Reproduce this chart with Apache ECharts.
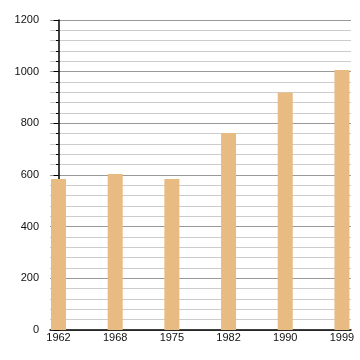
<!DOCTYPE html>
<html>
<head>
<meta charset="utf-8">
<script src="https://cdn.jsdelivr.net/npm/echarts@6/dist/echarts.min.js"></script>
<style>html,body{margin:0;padding:0;background:#fff;}#c{width:360px;height:360px;}</style>
</head>
<body>
<div id="c"></div>
<script>
var years = ['1962', '1968', '1975', '1982', '1990', '1999'];
var values = [585, 604, 585, 763, 919, 1006];
var yTicks = [0, 200, 400, 600, 800, 1000, 1200];

var chart = echarts.init(document.getElementById('c'), null, {renderer: 'canvas'});
chart.setOption({
  animation: false,
  backgroundColor: '#fff',
  grid: {left: 50, right: 9, top: 20, bottom: 30, containLabel: false},
  xAxis: {
    type: 'value',
    min: -0.15,
    max: 5.16,
    axisLine: {show: true, onZero: false, lineStyle: {color: '#000', width: 1.5}},
    axisTick: {show: false},
    splitLine: {show: false},
    axisLabel: {
      customValues: years.map(function (y, i) { return i; }),
      formatter: function (v) { return years[Math.round(v)]; },
      color: '#111', fontSize: 11, fontFamily: 'Liberation Sans, Arial', margin: 2
    }
  },
  yAxis: {
    type: 'value',
    min: yTicks[0],
    max: yTicks[yTicks.length - 1],
    interval: 200,
    axisLine: {show: true, lineStyle: {color: '#000', width: 1.5}},
    axisTick: {show: true, length: 5, lineStyle: {color: '#000'}},
    minorTick: {show: true, splitNumber: 5, length: 2.5, lineStyle: {color: '#000'}},
    splitLine: {show: true, lineStyle: {color: '#999', width: 1}},
    minorSplitLine: {show: true, lineStyle: {color: '#ccc', width: 1}},
    axisLabel: {
      formatter: function (v) { return String(v); },
      color: '#111', fontSize: 11, fontFamily: 'Liberation Sans, Arial', margin: 11
    }
  },
  series: [{
    type: 'bar',
    barWidth: 15,
    itemStyle: {color: '#e8bb83'},
    data: values.map(function (v, i) { return [i, v]; })
  }]
});
</script>
</body>
</html>
